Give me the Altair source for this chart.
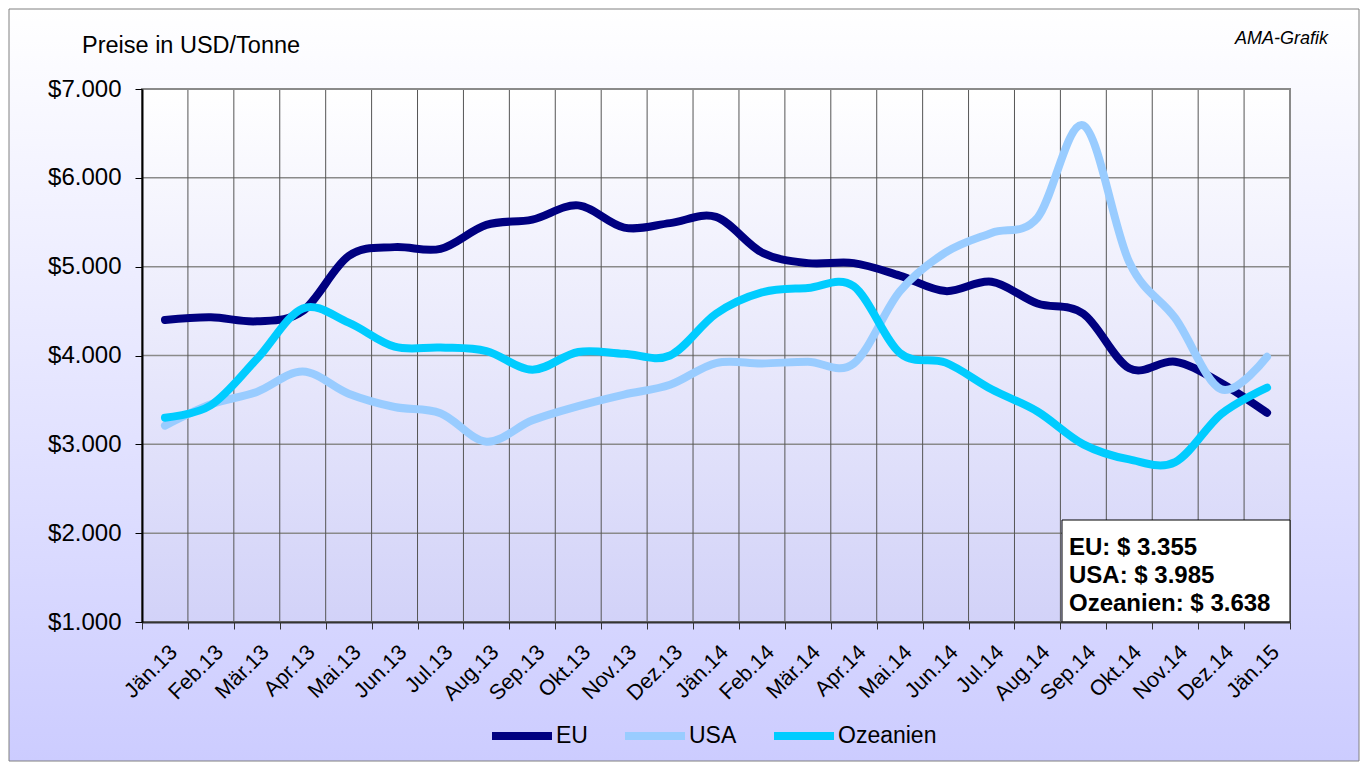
import altair as alt
import pandas as pd

# ---------------- data ----------------
months = ["Jän.13", "Feb.13", "Mär.13", "Apr.13", "Mai.13", "Jun.13", "Jul.13",
          "Aug.13", "Sep.13", "Okt.13", "Nov.13", "Dez.13", "Jän.14", "Feb.14",
          "Mär.14", "Apr.14", "Mai.14", "Jun.14", "Jul.14", "Aug.14", "Sep.14",
          "Okt.14", "Nov.14", "Dez.14", "Jän.15"]

eu = [4400, 4430, 4385, 4500, 5120, 5220, 5200, 5470, 5530, 5690, 5440, 5490, 5560,
      5160, 5040, 5040, 4900, 4725, 4830, 4585, 4470, 3856, 3930, 3690, 3355]
usa = [3210, 3450, 3590, 3820, 3570, 3420, 3350, 3030, 3270, 3430, 3560, 3670, 3915,
       3910, 3930, 3910, 4720, 5160, 5380, 5550, 6590, 5050, 4420, 3620, 3985]
oz = [3300, 3440, 3960, 4530, 4370, 4100, 4090, 4050, 3840, 4040, 4020, 4000, 4470,
      4710, 4760, 4780, 4030, 3920, 3620, 3370, 3000, 2830, 2800, 3340, 3638]

series_names = ["EU", "USA", "Ozeanien"]
series_colors = ["#000080", "#99CCFF", "#00CCFF"]
y_ticks = [1000, 2000, 3000, 4000, 5000, 6000, 7000]
latest_values = [3355, 3985, 3638]

title_text = "Preise in USD/Tonne"
source_text = "AMA-Grafik"

FONT = "Liberation Sans"
W, H = 1148, 533
PAD_L, PAD_T, PAD_R, PAD_B = 134, 81, 70, 140

rows = []
for name, vals in zip(series_names, [eu, usa, oz]):
    for m, v in zip(months, vals):
        rows.append({"month": m, "series": name, "value": v})
df = pd.DataFrame(rows)

one = pd.DataFrame({"k": [0]})

xscale = alt.Scale(type="band", domain=months, paddingInner=0, paddingOuter=0)
yscale = alt.Scale(domain=[1000, 7000], nice=False, zero=False)

yaxis = alt.Axis(
    values=y_ticks,
    labelExpr='"$" + replace(format(datum.value, ",.0f"), ",", ".")',
    title=None, grid=False, tickSize=7, tickColor="#000000", domainColor="#000000",
    domainWidth=2, labelFontSize=24, labelFont=FONT, labelColor="#000000",
    labelPadding=14, zindex=1,
)
xaxis = alt.Axis(
    title=None, grid=False, tickBand="extent", tickSize=7, tickColor="#333333",
    domainColor="#333333", domainWidth=2, labelAngle=315, labelAlign="right",
    labelBaseline="top", labelFontSize=21.5, labelFont=FONT, labelColor="#000000",
    labelPadding=12, labelOffset=1, zindex=1,
)


def grad(top, bottom):
    return alt.LinearGradient(
        gradient="linear",
        stops=[alt.GradientStop(color=top, offset=0), alt.GradientStop(color=bottom, offset=1)],
        x1=0, x2=0, y1=0, y2=1,
    )


outer_bg = alt.Chart(one).mark_rect(
    fill=grad("#FFFFFF", "#CCCCFF"), stroke="#808080", strokeWidth=1
).encode(
    x=alt.value(-PAD_L + 1), x2=alt.value(W + PAD_R - 1),
    y=alt.value(-PAD_T + 1), y2=alt.value(H + PAD_B - 1),
)

plot_bg = alt.Chart(one).mark_rect(fill=grad("#FFFFFF", "#D2D2F8")).encode(
    x=alt.value(0), x2=alt.value(W), y=alt.value(0), y2=alt.value(H)
)

hgrid = alt.Chart(pd.DataFrame({"value": y_ticks})).mark_rule(
    color="#8a8a8a", strokeWidth=1.5
).encode(y=alt.Y("value:Q", scale=yscale, axis=yaxis))

vgrid = alt.Chart(pd.DataFrame({"month": months})).mark_rule(
    color="#555555", strokeWidth=1
).encode(x=alt.X("month:N", scale=xscale, bandPosition=0, axis=xaxis))

border = alt.Chart(one).mark_rect(
    fillOpacity=0, stroke="#8a8a8a", strokeWidth=2
).encode(x=alt.value(0), x2=alt.value(W), y=alt.value(0), y2=alt.value(H))

legend = alt.Legend(
    orient="none", legendX=346, legendY=613, direction="horizontal", title=None,
    symbolType="stroke", symbolSize=3600, symbolStrokeWidth=8, labelFontSize=23,
    labelFont=FONT, labelColor="#000000", labelOffset=0, columnPadding=21,
)

lines = alt.Chart(df).mark_line(
    strokeWidth=8, strokeCap="round", strokeJoin="round", interpolate="cardinal"
).encode(
    x=alt.X("month:N", scale=xscale, bandPosition=0.5, axis=xaxis),
    y=alt.Y("value:Q", scale=yscale, axis=yaxis),
    color=alt.Color("series:N", scale=alt.Scale(domain=series_names, range=series_colors),
                    legend=legend),
)

ann_text = "\n".join(
    f"{n}: $ {v:,}".replace(",", ".") for n, v in zip(series_names, latest_values)
)

box = alt.Chart(one).mark_rect(fill="#FFFFFF", stroke="#000000", strokeWidth=1).encode(
    x=alt.value(920), x2=alt.value(W), y=alt.value(431), y2=alt.value(H)
)
ann = alt.Chart(one).mark_text(
    text=ann_text, lineBreak="\n", lineHeight=28, align="left", baseline="alphabetic",
    font=FONT, fontWeight="bold", fontSize=24, color="#000000",
).encode(x=alt.value(927), y=alt.value(466))

title = alt.Chart(one).mark_text(
    text=title_text, align="left", baseline="alphabetic", font=FONT, fontSize=23.5,
    color="#000000",
).encode(x=alt.value(-60), y=alt.value(-36))

source = alt.Chart(one).mark_text(
    text=source_text, align="right", baseline="alphabetic", font=FONT, fontSize=18,
    fontStyle="italic", color="#000000",
).encode(x=alt.value(1186), y=alt.value(-45))

chart = alt.layer(
    outer_bg, plot_bg, hgrid, vgrid, border, lines, box, ann, title, source
).properties(
    width=W, height=H,
    padding={"left": PAD_L, "top": PAD_T, "right": PAD_R, "bottom": PAD_B},
    autosize=alt.AutoSizeParams(type="none"),
    background="white",
).configure_view(strokeWidth=0)

chart.save("out.html", embed_options={"renderer": "svg", "actions": False})
